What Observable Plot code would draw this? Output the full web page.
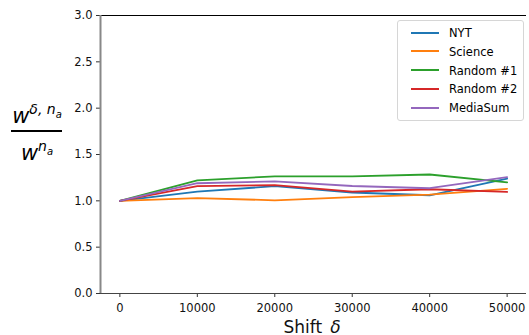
<!DOCTYPE html>
<html><head><meta charset="utf-8">
<script src="https://cdn.jsdelivr.net/npm/d3@7"></script>
<script src="https://cdn.jsdelivr.net/npm/@observablehq/plot@0.6"></script>
<style>
body{margin:0;background:#fff;font-family:"DejaVu Sans",sans-serif;}
#wrap{position:relative;width:529px;height:335px;overflow:hidden;}
.ylab{position:absolute;left:8px;top:97px;width:58px;text-align:center;font-family:"DejaVu Sans";font-style:italic;color:#000;}
.num{font-size:21px;line-height:24px;}
.bar{height:2px;background:#000;margin:2px 0 2px 3px;width:51px;}
.den{font-size:21px;line-height:24px;}
sup{font-size:14px;vertical-align:9px;}
sub{font-size:10px;}
.leg{position:absolute;left:397px;top:20px;width:125px;height:99px;border:1px solid #d6d6d6;border-radius:3px;background:rgba(255,255,255,0.8);font-size:11.5px;}
.leg div{position:absolute;left:13px;height:14px;line-height:14px;}
.leg span.sw{display:inline-block;width:28px;height:2px;vertical-align:middle;margin-right:10px;margin-top:-2px;}
</style></head>
<body><div id="wrap"></div>
<script>
const shifts = [0, 10000, 20000, 30000, 40000, 50000];
const seriesNames = ["NYT", "Science", "Random #1", "Random #2", "MediaSum"];
const colors = ["#1f77b4", "#ff7f0e", "#2ca02c", "#d62728", "#9467bd"];
const nyt      = [1.0, 1.10, 1.158, 1.09, 1.06, 1.24];
const science  = [1.0, 1.03, 1.006, 1.04, 1.068, 1.13];
const random1  = [1.0, 1.22, 1.265, 1.265, 1.284, 1.20];
const random2  = [1.0, 1.158, 1.17, 1.10, 1.125, 1.097];
const mediasum = [1.0, 1.19, 1.21, 1.16, 1.136, 1.255];
const xTicks = [0, 10000, 20000, 30000, 40000, 50000];
const yTicks = [0.0, 0.5, 1.0, 1.5, 2.0, 2.5, 3.0];

const allSeries = [nyt, science, random1, random2, mediasum];
const data = [];
allSeries.forEach((vals, i) => vals.forEach((v, j) => data.push({s: seriesNames[i], x: shifts[j], y: v})));

const chart = Plot.plot({
  width: 529, height: 335,
  marginLeft: 100, marginRight: 3, marginTop: 15, marginBottom: 42,
  style: {fontFamily: "DejaVu Sans", fontSize: "11.5px", color: "#111", background: "white"},
  x: {domain: [-2500, 52500], ticks: xTicks, tickFormat: d => String(d), label: null},
  y: {domain: [0, 3], ticks: yTicks, tickFormat: d => d.toFixed(1), label: null},
  color: {domain: seriesNames, range: colors},
  marks: [
    Plot.axisX({ticks: xTicks, tickFormat: d => String(d), tickSize: 4, tickPadding: 6, fontSize: 11.5, stroke: "#333", color:"#111"}),
    Plot.axisY({ticks: yTicks, tickFormat: d => d.toFixed(1), tickSize: 4, tickPadding: 4, fontSize: 11.5, stroke: "#333", color:"#111"}),
    Plot.ruleY([0], {stroke: "#444", strokeWidth: 1.2}),
    Plot.ruleY([3], {stroke: "#000", strokeWidth: 1.2}),
    Plot.ruleX([-2500], {stroke: "#888", strokeWidth: 2}),
    Plot.line(data, {x: "x", y: "y", z: "s", stroke: "s", strokeWidth: 1.8}),
    Plot.text(["Shift "], {frameAnchor: "bottom", dx: -8, dy: 39, text: d => d, fontSize: 17, fill: "#111", lineAnchor:"bottom"}),
    Plot.text(["δ"], {frameAnchor: "bottom", dx: 22, dy: 39, text: d => d, fontSize: 17, fontStyle: "italic", fill: "#111", lineAnchor:"bottom"})
  ]
});
const wrap = document.getElementById("wrap");
wrap.appendChild(chart);

const yl = document.createElement("div");
yl.className = "ylab";
yl.innerHTML = '<div class="num">w<sup>δ, n<sub>a</sub></sup></div><div class="bar"></div><div class="den">w<sup>n<sub>a</sub></sup></div>';
wrap.appendChild(yl);

const leg = document.createElement("div");
leg.className = "leg";
seriesNames.forEach((n, i) => {
  const d = document.createElement("div");
  d.style.top = (5 + i * 18.8) + "px";
  d.innerHTML = `<span class="sw" style="background:${colors[i]}"></span>${n}`;
  leg.appendChild(d);
});
wrap.appendChild(leg);
</script></body></html>
